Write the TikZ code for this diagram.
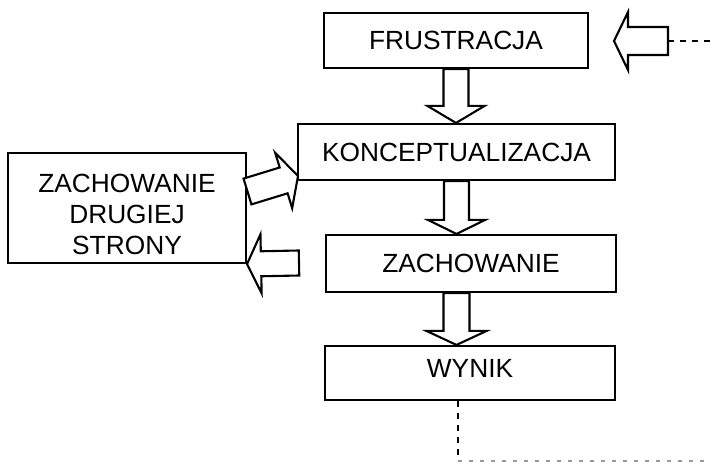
\documentclass[tikz,border=0pt]{standalone}
\usepackage{fontspec}
\setmainfont{Liberation Sans}
\usetikzlibrary{calc}
\tikzset{
  lbl/.style={inner sep=0pt, align=center, font=\fontsize{26.3}{31}\selectfont},
  box/.style={lbl, draw, line width=2.1pt},
  barrow/.style={draw, fill=white, line width=2.1pt, line join=miter},
  feed/.style={line width=2.4pt, dash pattern=on 6pt off 6pt},
  trail/.style={line width=1.2pt, black!40, dash pattern=on 4pt off 7pt},
}
% block arrow: tail, tip, half shaft width, half head width, head length
\newcommand\blockarrow[5]{%
  \draw[barrow] let \p1=($(#2)-(#1)$), \n1={veclen(\x1,\y1)}, \n2={atan2(\y1,\x1)} in
    ($(#1)+(\n2+90:#3)$)
    -- ($(#1)+(\n2:\n1-#5)+(\n2+90:#3)$)
    -- ($(#1)+(\n2:\n1-#5)+(\n2+90:#4)$)
    -- (#2)
    -- ($(#1)+(\n2:\n1-#5)+(\n2-90:#4)$)
    -- ($(#1)+(\n2:\n1-#5)+(\n2-90:#3)$)
    -- ($(#1)+(\n2-90:#3)$) -- cycle;
}
\begin{document}
\begin{tikzpicture}[x=1pt, y=-1pt]
  \useasboundingbox (0,0) rectangle (710,462);

  % boxes
  \node[box, minimum width=264pt, minimum height=55pt] (fru) at (456,40.5) {FRUSTRACJA};
  \node[box, minimum width=317pt, minimum height=56pt] (kon) at (456.5,152) {KONCEPTUALIZACJA};
  \node[box, minimum width=290pt, minimum height=57pt] (zach) at (471,263.5) {ZACHOWANIE};
  \node[box, minimum width=290pt, minimum height=54pt] (wyn) at (470,373) {};
  \node[lbl] (wynText) at ($(wyn.center)+(0,-5)$) {WYNIK};
  \node[box, minimum width=238pt, minimum height=110pt] (druga) at (127,208) {};
  \node[lbl] (drugaText) at ($(druga.center)+(0,6)$) {ZACHOWANIE\\DRUGIEJ\\STRONY};

  % free ends
  \coordinate (inTip) at (614,41);
  \coordinate (inTail) at (668,41);
  \coordinate (inEnd) at (712,41);
  \coordinate (fbTail) at (299,263);
  \coordinate (outTop) at (458,401);
  \coordinate (outCorner) at (458,461);
  \coordinate (outEnd) at (712,461);
  \coordinate (lTail) at (247.5,191.5);
  \coordinate (lTip) at (298,176);

  % main flow
  \blockarrow{fru.south}{fru.south |- kon.north}{12.5pt}{28.5pt}{17pt}
  \blockarrow{kon.south}{kon.south |- zach.north}{12.5pt}{28.5pt}{14pt}
  \blockarrow{kon.south |- zach.south}{kon.south |- wyn.north}{13pt}{30pt}{14pt}

  % interaction with the other side
  \blockarrow{lTail}{lTip}{13.5pt}{29pt}{15pt}
  \blockarrow{fbTail}{druga.south east}{12.5pt}{29.5pt}{14pt}

  % incoming loop
  \draw[feed] (inTail) -- (inEnd);
  \blockarrow{inTail}{inTip}{14pt}{29pt}{14pt}

  % outgoing trail
  \draw[feed] (outTop) -- (outCorner);
  \draw[trail] (outCorner) -- (outEnd);
\end{tikzpicture}
\end{document}
